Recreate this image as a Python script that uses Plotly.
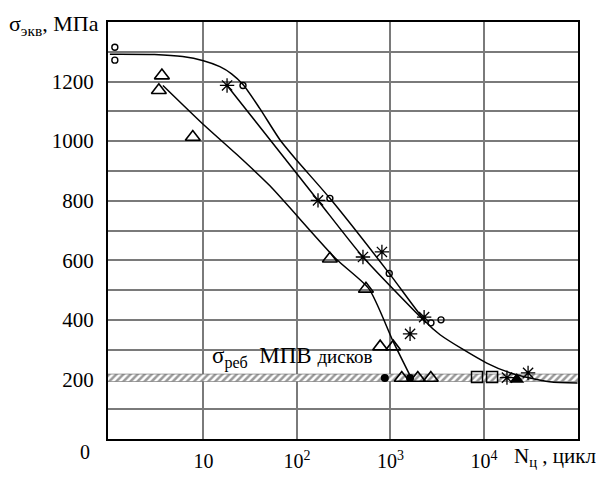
import plotly.graph_objects as go

# ---- data ----
curveA_x = [1, 3, 6, 10, 15, 20, 26.5, 40, 66, 100, 225, 970, 2410, 3390, 10700, 20400, 50000, 100000]
curveA_y = [1292, 1291, 1284, 1270, 1250, 1226, 1190, 1110, 1004, 935, 808, 556, 392, 350, 255, 219, 192, 188]
curveB_x = [17.9, 168, 508, 2400]
curveB_y = [1187, 801, 611, 390]
curveC_x = [3.69, 10, 22.8, 51.4, 261, 590, 1070, 1620]
curveC_y = [1187, 1056, 955, 850, 605, 504, 327, 213]

circle_x = [1.13, 1.13, 26.5, 225, 970, 2710, 3470]
circle_y = [1315, 1272, 1187, 808, 556, 390, 400]
star_x = [17.9, 168, 508, 810, 1620, 2290, 17600, 29600]
star_y = [1187, 801, 611, 628, 353, 409, 206, 222]
tri_x = [3.6, 3.34, 7.7, 225, 547, 776, 1070, 1320, 1960, 2700]
tri_y = [1220, 1171, 1014, 605, 504, 310, 310, 205, 205, 205]
dot_x = [870, 1620]
dot_y = [205, 205]
square_x = [8420, 12200]
square_y = [208, 208]
ftri_x = [22400]
ftri_y = [200]

band_low, band_high = 193, 218

x_tickvals = [10, 100, 1000, 10000]
x_ticktext = ["10", "10<sup>2</sup>", "10<sup>3</sup>", "10<sup>4</sup>"]
y_tickvals = list(range(100, 1400, 100))
y_ticktext = [str(v) if v % 200 == 0 else "" for v in y_tickvals]

FONT = "Liberation Serif"

fig = go.Figure()

# hatched band
fig.add_trace(go.Scatter(
    x=[0.9, 120000, 120000, 0.9, 0.9], y=[band_low, band_low, band_high, band_high, band_low],
    mode="lines", fill="toself", line=dict(color="#666", width=0.6),
    fillcolor="white",
    fillpattern=dict(shape="/", size=5, solidity=0.5, fgcolor="#333", bgcolor="white"),
    hoverinfo="skip", showlegend=False))

line_style = dict(color="black", width=1.5)
fig.add_trace(go.Scatter(x=curveA_x, y=curveA_y, mode="lines", line=dict(**line_style, shape="spline", smoothing=0.7), showlegend=False))
fig.add_trace(go.Scatter(x=curveB_x, y=curveB_y, mode="lines", line=dict(**line_style, shape="spline", smoothing=0.6), showlegend=False))
fig.add_trace(go.Scatter(x=curveC_x, y=curveC_y, mode="lines", line=dict(**line_style, shape="spline", smoothing=0.6), showlegend=False))

fig.add_trace(go.Scatter(x=circle_x, y=circle_y, mode="markers",
                         marker=dict(symbol="circle-open", size=6, color="black", line=dict(width=1.4)), showlegend=False))
fig.add_trace(go.Scatter(x=star_x, y=star_y, mode="markers",
                         marker=dict(symbol="asterisk-open", size=12, color="black", line=dict(width=1.3, color="black")), showlegend=False))
fig.add_trace(go.Scatter(x=tri_x, y=tri_y, mode="markers",
                         marker=dict(symbol="triangle-up-open", size=13, color="black", line=dict(width=1.6)), showlegend=False))
fig.add_trace(go.Scatter(x=square_x, y=square_y, mode="markers",
                         marker=dict(symbol="square-open", size=11, color="black", line=dict(width=1.5)), showlegend=False))
fig.add_trace(go.Scatter(x=dot_x, y=dot_y, mode="markers",
                         marker=dict(symbol="circle", size=8, color="black"), showlegend=False))
fig.add_trace(go.Scatter(x=ftri_x, y=ftri_y, mode="markers",
                         marker=dict(symbol="triangle-up", size=13, color="black"), showlegend=False))

fig.update_layout(
    width=610, height=484,
    margin=dict(l=108, r=32, t=22, b=34),
    paper_bgcolor="white", plot_bgcolor="white",
    font=dict(family=FONT, size=20, color="black"),
    xaxis=dict(type="log", range=[-0.02, 5.005], tickmode="array",
               tickvals=x_tickvals, ticktext=x_ticktext,
               showgrid=True, gridcolor="#7a7a7a", gridwidth=1.5,
               showline=True, linecolor="black", linewidth=2, mirror=True,
               ticks="", zeroline=False, ticklabelstandoff=3, tickfont=dict(family=FONT, size=20)),
    yaxis=dict(range=[0, 1400], tickmode="array", tickvals=y_tickvals, ticktext=y_ticktext,
               showgrid=True, gridcolor="#7a7a7a", gridwidth=1.5,
               showline=True, linecolor="black", linewidth=2, mirror=True,
               ticks="", zeroline=False, ticklabelstandoff=8, tickfont=dict(family=FONT, size=21)),
    annotations=[
        dict(text="σ<sub>экв</sub>, МПа", xref="paper", yref="paper", x=-0.215, y=0.993,
             xanchor="left", yanchor="middle", showarrow=False, font=dict(family=FONT, size=22)),
        dict(text="0", xref="paper", yref="paper", x=-0.049, y=-0.03,
             xanchor="center", yanchor="middle", showarrow=False, font=dict(family=FONT, size=20)),
        dict(text="N<sub>ц</sub> , цикл", xref="paper", yref="paper", x=0.86, y=-0.042,
             xanchor="left", yanchor="middle", showarrow=False, font=dict(family=FONT, size=21)),
        dict(text="σ<sub>реб</sub>  МПВ <span style='font-size:19px'>дисков</span>", xref="x", yref="y",
             x=1.07, y=274, xanchor="left", yanchor="middle", showarrow=False,
             font=dict(family=FONT, size=23), bgcolor="rgba(255,255,255,0)"),
    ],
)

fig.write_html("out.html")
